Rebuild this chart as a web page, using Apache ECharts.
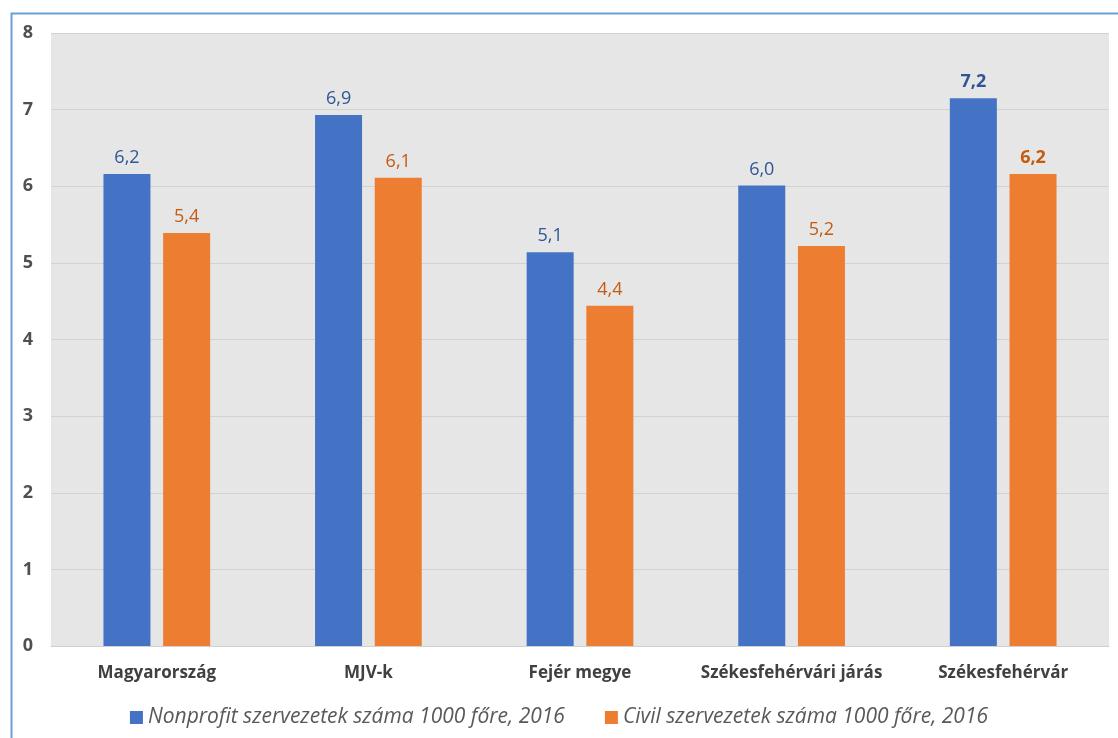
<!DOCTYPE html>
<html><head><meta charset="utf-8">
<script src="https://cdn.jsdelivr.net/npm/echarts@6/dist/echarts.min.js"></script>
<style>html,body{margin:0;padding:0;background:#fff}#c{width:1118px;height:738px}</style>
</head><body><div id="c"></div>
<script>
const categories = ['Magyarország', 'MJV-k', 'Fejér megye', 'Székesfehérvári járás', 'Székesfehérvár'];
const nonprofit = [6.16, 6.93, 5.14, 6.01, 7.15];
const civil = [5.39, 6.11, 4.44, 5.22, 6.16];
const seriesNames = ['Nonprofit szervezetek száma 1000 főre, 2016', 'Civil szervezetek száma 1000 főre, 2016'];
const yTicks = [0, 1, 2, 3, 4, 5, 6, 7, 8];

const FONT = '"Open Sans", sans-serif';
const fmt = v => v.toFixed(1).replace('.', ',');
function mk(vals) {
  return vals.map((v, i) => ({
    value: v,
    label: { fontWeight: i === vals.length - 1 ? 'bold' : 'normal' }
  }));
}
const chart = echarts.init(document.getElementById('c'));
chart.setOption({
  animation: false,
  textStyle: { fontFamily: FONT },
  graphic: [{
    type: 'rect', left: 9, top: 11, z: 100,
    shape: { x: 0, y: 0, width: 1200, height: 800 },
    style: { fill: 'none', stroke: '#6a9fd6', lineWidth: 2 }
  }],
  grid: { left: 51, right: 9, top: 33, bottom: 92, backgroundColor: '#e6e6e6', show: true, borderWidth: 0 },
  legend: {
    bottom: 5, left: 'center', itemWidth: 13, itemHeight: 13, itemGap: 40,
    icon: 'rect',
    textStyle: { fontFamily: FONT, fontStyle: 'italic', fontSize: 21, color: '#595959' },
    data: seriesNames
  },
  xAxis: {
    type: 'category', data: categories,
    axisLine: { lineStyle: { color: '#d0d0d0' } }, axisTick: { show: false },
    axisLabel: { interval: 0, fontFamily: FONT, fontWeight: 'bold', fontSize: 17, color: '#404040', margin: 19 }
  },
  yAxis: {
    type: 'value', min: yTicks[0], max: yTicks[yTicks.length - 1], interval: 1,
    axisLine: { show: false }, axisTick: { show: false },
    splitLine: { lineStyle: { color: '#d2d2d2', width: 1 } },
    axisLabel: { fontFamily: FONT, fontWeight: 'bold', fontSize: 18, color: '#505050', margin: 18,
      formatter: v => String(v) }
  },
  series: [
    { name: seriesNames[0], type: 'bar', data: mk(nonprofit), barWidth: 47, barGap: '27%',
      itemStyle: { color: '#4472c4' },
      label: { show: true, position: 'top', distance: 7, fontFamily: FONT, fontSize: 18, color: '#2f5597',
        formatter: p => fmt(p.value) } },
    { name: seriesNames[1], type: 'bar', data: mk(civil), barWidth: 47,
      itemStyle: { color: '#ed7d31' },
      label: { show: true, position: 'top', distance: 7, fontFamily: FONT, fontSize: 18, color: '#c55a11',
        formatter: p => fmt(p.value) } }
  ]
});
</script></body></html>
